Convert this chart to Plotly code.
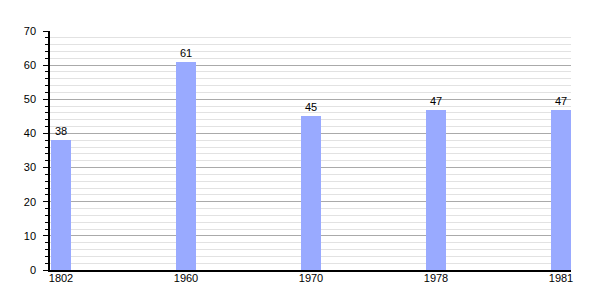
import plotly.graph_objects as go

years = ["1802", "1960", "1970", "1978", "1981"]
values = [38, 61, 45, 47, 47]

fig = go.Figure()
fig.add_trace(go.Bar(
    x=list(range(len(years))),
    y=values,
    width=0.16,
    marker=dict(color="#99aaff", line=dict(width=0)),
    text=[str(v) for v in values],
    textposition="outside",
    cliponaxis=False,
    textfont=dict(family="Liberation Sans, Arial, sans-serif", size=11, color="black"),
))

fig.update_layout(
    width=600, height=300,
    margin=dict(l=50, r=29, t=31, b=30),
    plot_bgcolor="white", paper_bgcolor="white",
    showlegend=False,
    font=dict(family="Liberation Sans, Arial, sans-serif", size=11, color="black"),
    bargap=0,
)
fig.update_xaxes(
    tickvals=list(range(len(years))), ticktext=years,
    range=[-0.088, 4.08],
    showgrid=False, zeroline=False,
    showline=True, linecolor="black", linewidth=1.5,
    ticks="", ticklabelstandoff=-3,
)
fig.update_yaxes(
    range=[0, 70], dtick=10,
    showgrid=True, gridcolor="#aaaaaa", gridwidth=1,
    zeroline=False,
    showline=True, linecolor="black", linewidth=1.5,
    ticks="outside", ticklen=5, tickcolor="black", tickwidth=1,
    ticklabelstandoff=5,
    minor=dict(dtick=2, showgrid=True, gridcolor="#e2e2e2", gridwidth=1,
               ticks="outside", ticklen=3, tickcolor="black", tickwidth=1),
)

fig.write_html("out.html")
